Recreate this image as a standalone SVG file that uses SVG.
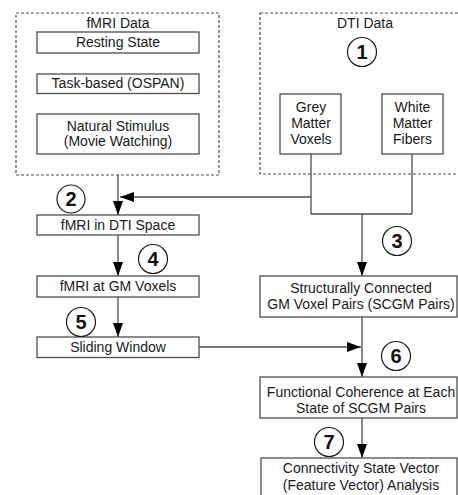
<svg xmlns="http://www.w3.org/2000/svg" width="458" height="495" viewBox="0 0 458 495">
<style>
text{font-family:"Liberation Sans",Arial,sans-serif;font-size:14px;fill:#1a1a1a;text-anchor:middle}
.box{fill:#fff;stroke:#4d4d4d;stroke-width:1.3}
.dash{fill:none;stroke:#4d4d4d;stroke-width:1.2;stroke-dasharray:3 2}
.num{fill:#fff;stroke:#1a1a1a;stroke-width:1.2}
.nt{font-size:20px;font-weight:bold;fill:#111}
.ln{fill:none;stroke:#4d4d4d;stroke-width:1.3}
</style>
<defs>
<marker id="ah" markerUnits="userSpaceOnUse" markerWidth="14" markerHeight="10" refX="14" refY="5" orient="auto">
<path d="M0,0 L14,5 L0,10 Z" fill="#000"/>
</marker>
</defs>
<rect width="458" height="495" fill="#fff"/>
<g id="fmri-data">
<rect class="dash" x="16" y="13" width="203" height="162"/>
<text x="118" y="28">fMRI Data</text>
</g>
<g id="resting-state">
<rect class="box" x="37" y="32" width="162" height="21"/>
<text x="118" y="47">Resting State</text>
</g>
<g id="task-based">
<rect class="box" x="37" y="74" width="162" height="19.5"/>
<text x="118" y="88">Task-based (OSPAN)</text>
</g>
<g id="natural-stimulus">
<rect class="box" x="37" y="114" width="162" height="40"/>
<text x="118" y="131">Natural Stimulus</text>
<text x="118" y="146">(Movie Watching)</text>
</g>
<g id="dti-data">
<rect class="dash" x="260" y="13" width="200" height="161"/>
<text x="365" y="28">DTI Data</text>
</g>
<g id="grey-matter">
<rect class="box" x="280" y="94" width="61" height="60"/>
<text x="311" y="112">Grey</text>
<text x="311" y="128">Matter</text>
<text x="311" y="144">Voxels</text>
</g>
<g id="white-matter">
<rect class="box" x="382" y="94" width="61" height="60"/>
<text x="412.5" y="112">White</text>
<text x="412.5" y="128">Matter</text>
<text x="412.5" y="144">Fibers</text>
</g>
<g id="connectors">
<path class="ln" d="M118,175 V215" marker-end="url(#ah)"/>
<path class="ln" d="M311,154 V214 M412,154 V214 M311,214 H412"/>
<path class="ln" d="M311,197 H120" marker-end="url(#ah)"/>
<path class="ln" d="M362,214 V276" marker-end="url(#ah)"/>
<path class="ln" d="M118,235 V276" marker-end="url(#ah)"/>
<path class="ln" d="M118,297 V337" marker-end="url(#ah)"/>
<path class="ln" d="M199,347 H361" marker-end="url(#ah)"/>
<path class="ln" d="M362,317 V377" marker-end="url(#ah)"/>
<path class="ln" d="M362,418 V458" marker-end="url(#ah)"/>
</g>
<g id="fmri-dti-space">
<rect class="box" x="37" y="215" width="162" height="20"/>
<text x="118" y="230">fMRI in DTI Space</text>
</g>
<g id="fmri-gm-voxels">
<rect class="box" x="37" y="276" width="162" height="21"/>
<text x="118" y="291">fMRI at GM Voxels</text>
</g>
<g id="sliding-window">
<rect class="box" x="37" y="337" width="162" height="20.5"/>
<text x="118" y="352">Sliding Window</text>
</g>
<g id="scgm-pairs">
<rect class="box" x="260" y="276" width="197" height="41"/>
<text x="361" y="293">Structurally Connected</text>
<text x="361" y="309">GM Voxel Pairs (SCGM Pairs)</text>
</g>
<g id="functional-coherence">
<rect class="box" x="260" y="377" width="197" height="41"/>
<text x="361" y="397">Functional Coherence at Each</text>
<text x="361" y="413">State of SCGM Pairs</text>
</g>
<g id="state-vector">
<rect class="box" x="261" y="458" width="196" height="45"/>
<text x="361" y="473">Connectivity State Vector</text>
<text x="361" y="490">(Feature Vector) Analysis</text>
</g>
<g id="step-1"><circle class="num" cx="362" cy="52" r="14.5"/><text class="nt" x="362" y="59">1</text></g>
<g id="step-2"><circle class="num" cx="71" cy="199" r="14"/><text class="nt" x="71" y="206">2</text></g>
<g id="step-3"><circle class="num" cx="397" cy="241" r="14.5"/><text class="nt" x="397" y="248">3</text></g>
<g id="step-4"><circle class="num" cx="153" cy="259" r="14.5"/><text class="nt" x="153" y="266">4</text></g>
<g id="step-5"><circle class="num" cx="81" cy="322" r="14.5"/><text class="nt" x="81" y="329">5</text></g>
<g id="step-6"><circle class="num" cx="396" cy="356" r="14.5"/><text class="nt" x="396" y="363">6</text></g>
<g id="step-7"><circle class="num" cx="329" cy="442" r="14.5"/><text class="nt" x="329" y="449">7</text></g>
</svg>
